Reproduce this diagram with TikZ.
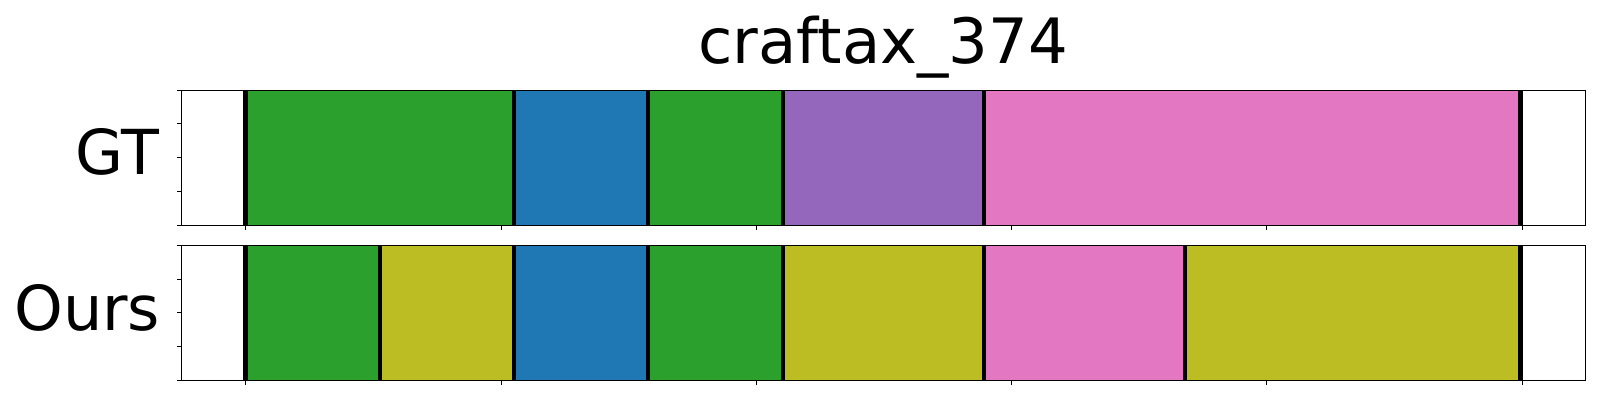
\documentclass[tikz,border=0pt]{standalone}
\usepackage{fontspec}
\setmainfont{DejaVu Sans}
\usepackage{xcolor}
\usepackage{tikz}
\usetikzlibrary{positioning}
\definecolor{tabgreen}{HTML}{2CA02C}
\definecolor{tabblue}{HTML}{1F77B4}
\definecolor{tabpurple}{HTML}{9467BD}
\definecolor{tabpink}{HTML}{E377C2}
\definecolor{tabolive}{HTML}{BCBD22}
\tikzset{
    cut/.style={line width=4.6pt, black},
    frame/.style={line width=1pt, black},
    tick/.style={line width=0.9pt, black},
    rowlabel/.style={anchor=base east, inner sep=0pt, font=\fontsize{62}{70}\selectfont},
}

\begin{document}
\begin{tikzpicture}[x=1pt,y=-1pt]
    \useasboundingbox (0,0) rectangle (1600,400);
    \node[anchor=base, inner sep=0pt, font=\fontsize{62.5}{70}\selectfont] (title) at (883.2,63.3) {craftax\_374};
    % GT row
    \foreach \a/\b/\c in {245.7/513.8/tabgreen, 513.8/647.8/tabblue, 647.8/782.8/tabgreen, 782.8/983.8/tabpurple, 983.8/1520.7/tabpink}
        \fill[\c] (\a,90) rectangle (\b,225.3);
    \foreach \x in {245.7, 513.8, 647.8, 782.8, 983.8, 1520.7}
        \draw[cut] (\x,90) -- (\x,225.3);
    % Ours row
    \foreach \a/\b/\c in {245.7/379.8/tabgreen, 379.8/513.8/tabolive, 513.8/647.8/tabblue, 647.8/782.8/tabgreen, 782.8/983.8/tabolive, 983.8/1184.8/tabpink, 1184.8/1520.7/tabolive}
        \fill[\c] (\a,245.3) rectangle (\b,380);
    \foreach \x in {245.7, 379.8, 513.8, 647.8, 782.8, 983.8, 1184.8, 1520.7}
        \draw[cut] (\x,245.3) -- (\x,380);
    % axes and ticks
    \foreach \t/\bo in {90/225.3, 245.3/380} {
        \draw[frame] (181.9,\t) rectangle (1585.5,\bo);
        \foreach \x in {245.7, 501, 756.3, 1011.5, 1266.8, 1522}
            \draw[tick] (\x,\bo) -- (\x,\bo+5);
        \foreach \k in {0,...,4}
            \draw[tick] (181.9,{\t+\k*(\bo-\t)/4}) -- (176.9,{\t+\k*(\bo-\t)/4});
    }
    \node[rowlabel] (gt) at (159.5,174.5) {GT};
    \node[rowlabel] (ours) at (160.5,330) {Ours};
\end{tikzpicture}
\end{document}
